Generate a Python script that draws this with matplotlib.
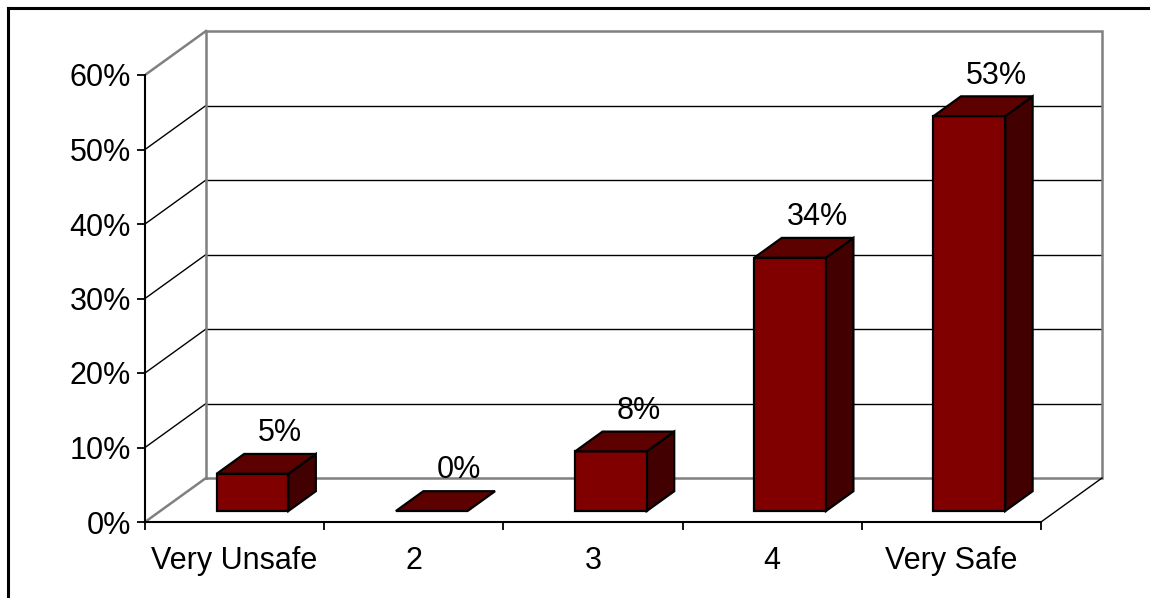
import numpy as np
import matplotlib
matplotlib.use("Agg")
import matplotlib.pyplot as plt
from matplotlib.patches import Polygon
from matplotlib.lines import Line2D

categories = ["Very Unsafe", "2", "3", "4", "Very Safe"]
values = [5, 0, 8, 34, 53]
value_labels = ["5%", "0%", "8%", "34%", "53%"]
y_ticks = [0, 10, 20, 30, 40, 50, 60]
y_tick_labels = ["0%", "10%", "20%", "30%", "40%", "50%", "60%"]

plt.rcParams["font.family"] = ["Liberation Sans", "DejaVu Sans"]

W, H = 1150, 598
fig = plt.figure(figsize=(W / 100, H / 100), dpi=100)

# pixel layout of the front plane
px_cat = 179.2
px_pct = 7.45
left, bottom, right, top = 145, 522, 1106, 26
ax = fig.add_axes([left / W, (H - bottom) / H, (right - left) / W, (bottom - top) / H])
ax.set_xlim(-0.5, -0.5 + (right - left) / px_cat)
ax.set_ylim(0, (bottom - top) / px_pct)

# depth of the 3d box in data units
DX = 61 / px_cat
DY = 44 / px_pct
ymax = y_ticks[-1]
n = len(categories)
x0, x1 = -0.5, n - 0.5
fs = 22

wall = "#808080"
# back wall and side edges
ax.plot([x0 + DX, x0 + DX, x1 + DX, x1 + DX, x0 + DX],
        [DY, ymax + DY, ymax + DY, DY, DY], color=wall, lw=1.8, zorder=1,
        solid_joinstyle="miter")
ax.plot([x0, x0 + DX], [ymax, ymax + DY], color=wall, lw=1.8, zorder=1)
ax.plot([x0, x0 + DX], [0, DY], color=wall, lw=1.8, zorder=1)
ax.plot([x1, x1 + DX], [0, DY], color="black", lw=1, zorder=1)
for t in y_ticks[1:-1]:
    ax.plot([x0 + DX, x1 + DX], [t + DY, t + DY], color="black", lw=1, zorder=0.9)
    ax.plot([x0, x0 + DX], [t, t + DY], color="black", lw=1, zorder=0.9)

# bars
w = 0.4
d0, d1 = 0.25, 0.70
front_c = "#800000"
top_c = "#5c0000"
side_c = "#420000"
for i, v in enumerate(values):
    xl = i - w / 2 + 0.015
    xr = i + w / 2 + 0.015
    fx, fy = d0 * DX, d0 * DY
    bx, by = d1 * DX, d1 * DY
    if v > 0:
        ax.add_patch(Polygon([(xr + fx, fy), (xr + bx, by), (xr + bx, v + by), (xr + fx, v + fy)],
                             closed=True, facecolor=side_c, edgecolor="black", lw=1.6, zorder=3))
        ax.add_patch(Polygon([(xl + fx, fy), (xr + fx, fy), (xr + fx, v + fy), (xl + fx, v + fy)],
                             closed=True, facecolor=front_c, edgecolor="black", lw=1.6, zorder=3))
    ax.add_patch(Polygon([(xl + fx, v + fy), (xr + fx, v + fy), (xr + bx, v + by), (xl + bx, v + by)],
                         closed=True, facecolor=top_c, edgecolor="black", lw=1.6, zorder=3))
    ax.annotate(value_labels[i], (i + bx, v + by), xytext=(2, 15), textcoords="offset points",
                ha="center", va="center", fontsize=fs, zorder=4)

# axes
for s in ["top", "right"]:
    ax.spines[s].set_visible(False)
ax.spines["left"].set_bounds(0, ymax)
ax.spines["bottom"].set_bounds(x0, x1)
ax.spines["left"].set_linewidth(1.5)
ax.spines["bottom"].set_linewidth(1.5)
ax.spines["left"].set_zorder(2)
ax.spines["bottom"].set_zorder(2)
ax.set_yticks(y_ticks)
ax.set_yticklabels(y_tick_labels, fontsize=fs)
ax.tick_params(axis="y", length=6, width=1.3, pad=4)
ax.set_xticks(np.arange(n))
ax.set_xticklabels(categories, fontsize=fs)
ax.set_xticks(np.arange(n + 1) - 0.5, minor=True)
ax.tick_params(axis="x", which="major", length=0, pad=17)
ax.tick_params(axis="x", which="minor", length=6, width=1.3)
ax.patch.set_alpha(0)

# outer frame (only top and left visible in the crop)
fig.add_artist(Line2D([8 / W, 8 / W], [0, 1 - 8 / H], color="black", lw=2.2))
fig.add_artist(Line2D([8 / W, 1], [1 - 8 / H, 1 - 8 / H], color="black", lw=2.2))

fig.savefig("out.png", dpi=100)
